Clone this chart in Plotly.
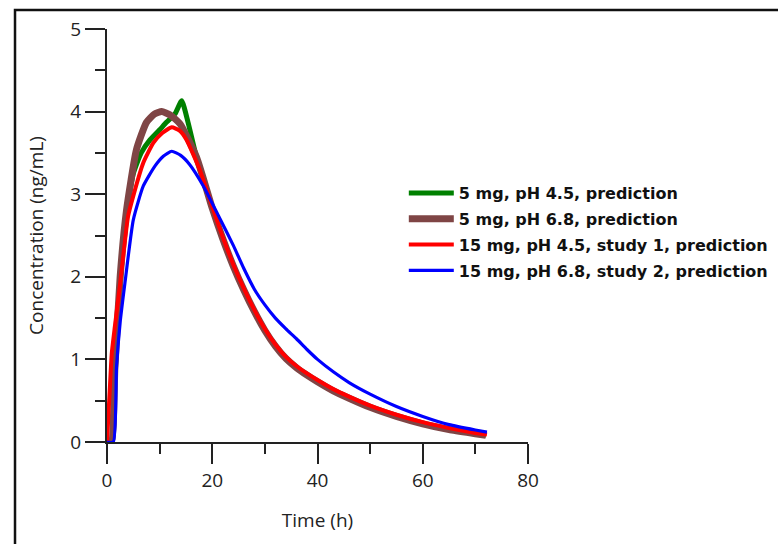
import plotly.graph_objects as go

# ---- data ----
green_t = [0, 1.0, 1.5, 2.5, 3.5, 5.0, 6.5, 8.2, 10.0, 11.3, 12.9, 14.2, 15.4, 17.0, 20.0, 22, 24, 26,
           28, 30, 32, 34, 36, 38, 40, 43, 46, 50, 55, 60, 65, 70, 72]
green_c = [0, 0, 0.8, 1.9, 2.7, 3.25, 3.5, 3.66, 3.78, 3.87, 3.97, 4.13, 3.87, 3.45, 2.83, 2.46, 2.13, 1.84,
           1.58, 1.35, 1.16, 1.01, 0.9, 0.81, 0.73, 0.62, 0.53, 0.42, 0.31, 0.22, 0.15, 0.1, 0.08]

brown_t = [0, 0.8, 1.5, 2.5, 3.7, 5.6, 7.5, 9.0, 10.4, 12.0, 13.9, 17.0, 20.0, 22, 24, 26,
           28, 30, 32, 34, 36, 38, 40, 43, 46, 50, 55, 60, 65, 70, 72]
brown_c = [0, 0, 0.9, 2.0, 2.8, 3.54, 3.87, 3.97, 4.0, 3.96, 3.85, 3.45, 2.83, 2.46, 2.13, 1.84,
           1.58, 1.35, 1.16, 1.01, 0.9, 0.81, 0.73, 0.62, 0.53, 0.42, 0.31, 0.22, 0.15, 0.1, 0.08]

red_t = [0, 0.5, 0.9, 1.5, 2.5, 4.0, 5.0, 6.9, 8.8, 10.5, 12.3, 13.8, 15.1, 17.6, 20, 22, 24, 26,
         28, 30, 32, 34, 36, 38, 40, 43, 46, 50, 55, 60, 65, 70, 72.2]
red_c = [0, 0.6, 1.07, 1.4, 1.92, 2.73, 2.98, 3.38, 3.62, 3.74, 3.81, 3.77, 3.66, 3.3, 2.85, 2.48, 2.15, 1.86,
         1.6, 1.37, 1.18, 1.03, 0.92, 0.83, 0.75, 0.64, 0.55, 0.44, 0.33, 0.24, 0.17, 0.11, 0.09]

blue_t = [0, 1.2, 1.8, 2.5, 3.4, 5.0, 6.9, 9.1, 10.7, 12.3, 14, 15.7, 18.3, 21.1, 24, 26, 28,
          30, 32, 34, 36, 38, 40, 43, 46, 50, 55, 60, 65, 70, 72.2]
blue_c = [0, 0, 0.9, 1.45, 1.92, 2.69, 3.1, 3.34, 3.46, 3.52, 3.47, 3.36, 3.1, 2.75, 2.38, 2.1, 1.85,
          1.66, 1.5, 1.37, 1.25, 1.12, 1.0, 0.85, 0.72, 0.58, 0.43, 0.31, 0.21, 0.145, 0.12]

series_names = ["5 mg, pH 4.5, prediction", "5 mg, pH 6.8, prediction",
                "15 mg, pH 4.5, study 1, prediction", "15 mg, pH 6.8, study 2, prediction"]
series_colors = ["#008000", "#7f4545", "#ff0000", "#0000ff"]
series_widths = [5, 7, 4, 3.2]

x_ticks = [0, 20, 40, 60, 80]
y_ticks = [0, 1, 2, 3, 4, 5]

fig = go.Figure()
for i, (t, c) in enumerate([(green_t, green_c), (brown_t, brown_c), (red_t, red_c), (blue_t, blue_c)]):
    fig.add_trace(go.Scatter(
        x=t, y=c, mode="lines", name="<b>" + series_names[i] + "</b>",
        line=dict(color=series_colors[i], width=series_widths[i], shape="spline", smoothing=0.5),
        legendgroup=str(i),
    ))

axis_font = dict(family="Open Sans", size=19, color="#222")
fig.update_layout(
    width=778, height=544,
    margin=dict(l=107, r=250, t=29, b=102, autoexpand=False),
    paper_bgcolor="white", plot_bgcolor="white",
    showlegend=True,
    legend=dict(x=0.705, y=0.644, xanchor="left", yanchor="top",
                font=dict(family="DejaVu Sans", size=16, color="#111"),
                bgcolor="rgba(0,0,0,0)", tracegroupgap=2, itemwidth=45),
    xaxis=dict(range=[0, 80], tickvals=x_ticks, ticks="outside", ticklen=20, tickwidth=2,
               tickcolor="#222", showline=True, linecolor="#222", linewidth=2,
               showgrid=False, zeroline=False, tickfont=axis_font,
               minor=dict(dtick=10, ticks="outside", ticklen=10, tickwidth=2, tickcolor="#222"),
               title=dict(text="Time (h)", font=axis_font, standoff=22), automargin=False),
    yaxis=dict(range=[0, 5], tickvals=y_ticks, ticks="outside", ticklen=20, tickwidth=2,
               tickcolor="#222", showline=True, linecolor="#222", linewidth=2,
               showgrid=False, zeroline=False, tickfont=axis_font,
               minor=dict(dtick=0.5, ticks="outside", ticklen=10, tickwidth=2, tickcolor="#222"),
               title=dict(text="Concentration (ng/mL)", font=axis_font, standoff=22), automargin=False),
    shapes=[dict(type="rect", xref="paper", yref="paper", x0=-0.2185, x1=2.0, y0=-1.0, y1=1.046,
                 line=dict(color="#111", width=2.5), fillcolor="rgba(0,0,0,0)", layer="above")],
)

fig.write_html("out.html")
